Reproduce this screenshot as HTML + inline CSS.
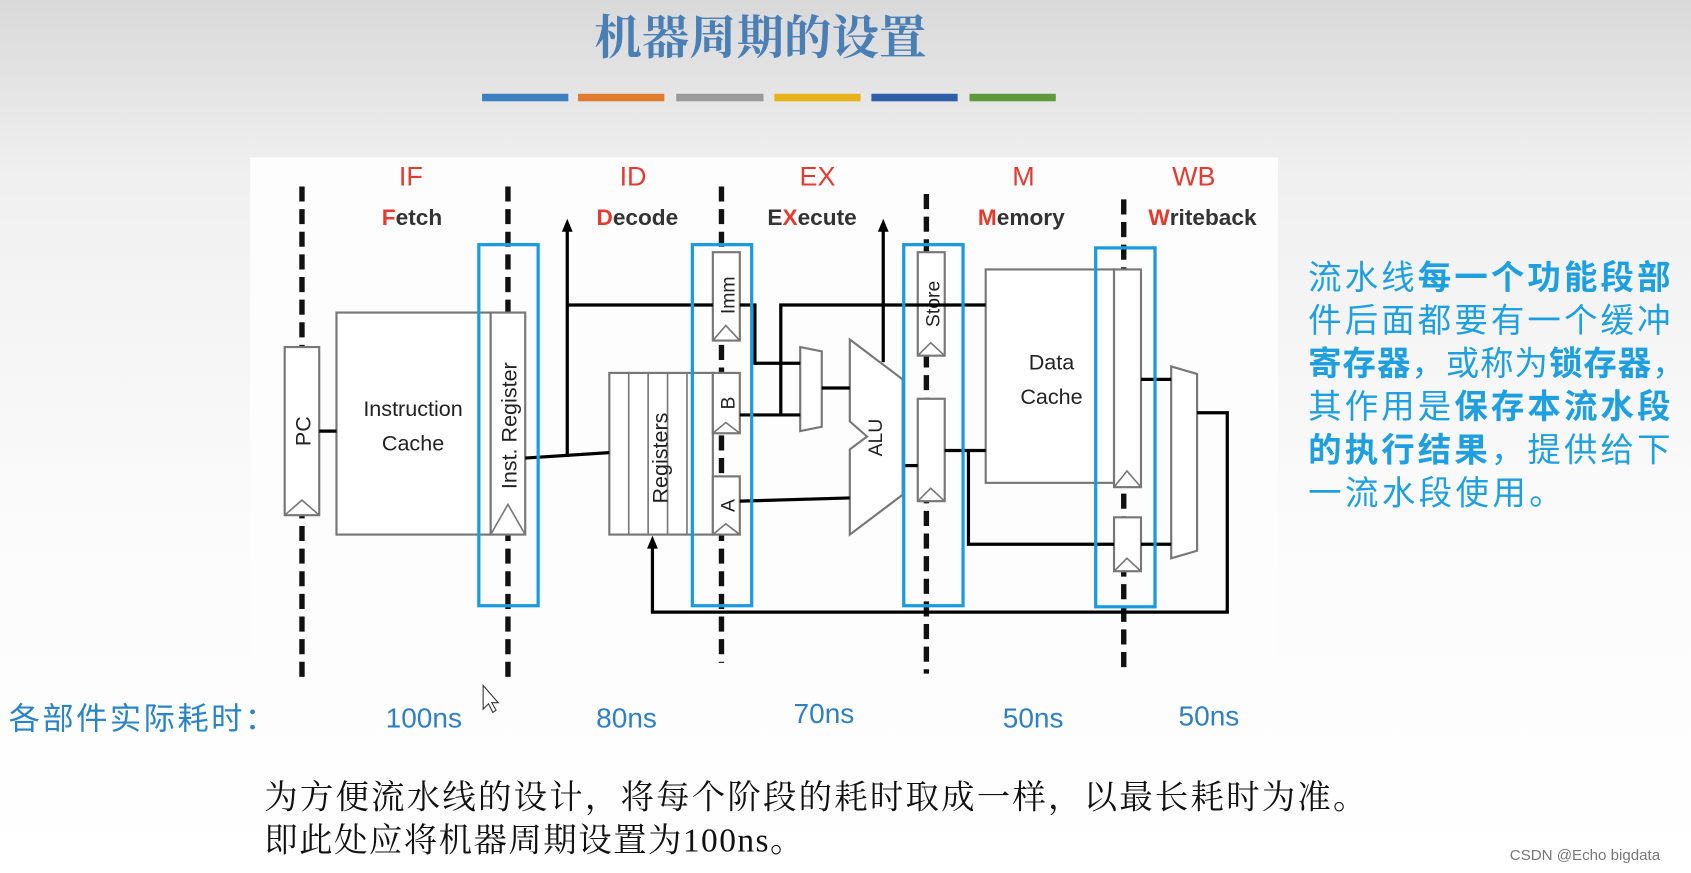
<!DOCTYPE html>
<html><head><meta charset="utf-8"><style>
html,body{margin:0;padding:0;width:1691px;height:873px;overflow:hidden;background:#fff}
svg{display:block}
.cn{font-family:"Liberation Sans","Noto Sans CJK SC",sans-serif}
.lat{font-family:"Liberation Sans","DejaVu Sans",sans-serif}
</style></head><body>
<svg width="1691" height="873" viewBox="0 0 1568 810" preserveAspectRatio="none" xmlns="http://www.w3.org/2000/svg">
<defs>
<linearGradient id="bg" x1="0" y1="0" x2="0" y2="1">
<stop offset="0" stop-color="#d9d9d9"/><stop offset="0.2" stop-color="#f0f0f0"/><stop offset="0.6" stop-color="#fbfbfb"/><stop offset="1" stop-color="#ffffff"/>
</linearGradient>
</defs>
<rect width="1568" height="810" fill="url(#bg)"/>
<rect x="232" y="146" width="953" height="494" fill="#fdfdfd"/>
<text x="705" y="50" text-anchor="middle" font-size="44" font-weight="bold" fill="#4a7fb5" font-family="'Noto Serif CJK SC',serif">机器周期的设置</text>
<g>
<rect x="447" y="87" width="80" height="7" fill="#3c80c2"/>
<rect x="536" y="87" width="80" height="7" fill="#e07b2f"/>
<rect x="627" y="87" width="81" height="7" fill="#9a9a9a"/>
<rect x="718" y="87" width="80" height="7" fill="#e8b319"/>
<rect x="808" y="87" width="80" height="7" fill="#2f5ea8"/>
<rect x="899" y="87" width="80" height="7" fill="#5e9a3c"/>
</g>
<g class="lat" font-size="25" fill="#e53a2f" text-anchor="middle">
<text x="381" y="172">IF</text><text x="587" y="172">ID</text><text x="758" y="172">EX</text><text x="949" y="172">M</text><text x="1107" y="172">WB</text>
</g>
<g class="lat" font-size="21" font-weight="bold" fill="#333" text-anchor="middle">
<text x="382" y="209"><tspan fill="#e53a2f">F</tspan>etch</text>
<text x="591" y="209"><tspan fill="#e53a2f">D</tspan>ecode</text>
<text x="753" y="209">E<tspan fill="#e53a2f">X</tspan>ecute</text>
<text x="947" y="209"><tspan fill="#e53a2f">M</tspan>emory</text>
<text x="1115" y="209"><tspan fill="#e53a2f">W</tspan>riteback</text>
</g>
<g stroke="#111" stroke-width="5" stroke-dasharray="14,7">
<line x1="280" y1="173" x2="280" y2="630"/>
<line x1="471" y1="173" x2="471" y2="630"/>
<line x1="669" y1="173" x2="669" y2="615"/>
<line x1="859" y1="180" x2="859" y2="625"/>
<line x1="1042" y1="185" x2="1042" y2="625"/>
</g>
<g fill="#fff" stroke="#777" stroke-width="2">
<rect x="264" y="322" width="32" height="156"/>
<rect x="312" y="290" width="143" height="206"/>
<rect x="455" y="290" width="32" height="206"/>
<rect x="565" y="346" width="96" height="150"/>
<rect x="661" y="234" width="25" height="82"/>
<rect x="661" y="346" width="25" height="56"/>
<rect x="661" y="442" width="25" height="54"/>
<rect x="851" y="234" width="25" height="96"/>
<rect x="851" y="370" width="25" height="95"/>
<rect x="914" y="250" width="119" height="198"/>
<rect x="1033" y="250" width="25" height="202"/>
<rect x="1033" y="480" width="25" height="50"/>
<polygon points="742,322 762,326 762,396 742,400"/>
<polygon points="1086,340 1110,347 1110,511 1086,518"/>
<polygon points="788,315 837,352 837,459 788,496 788,417 804,405 788,391"/>
</g>
<g stroke="#777" stroke-width="1.5" fill="none">
<line x1="583" y1="346" x2="583" y2="496"/><line x1="601" y1="346" x2="601" y2="496"/><line x1="619" y1="346" x2="619" y2="496"/><line x1="637" y1="346" x2="637" y2="496"/>
<polyline points="264,478 280,464 296,478"/>
<polyline points="455,496 471,468 487,496"/>
<polyline points="661,316 673,302 686,316"/>
<polyline points="661,402 673,392 686,402"/>
<polyline points="661,496 673,486 686,496"/>
<polyline points="851,330 863,318 876,330"/>
<polyline points="851,465 863,453 876,465"/>
<polyline points="1033,452 1045,437 1058,452"/>
<polyline points="1033,530 1045,518 1058,530"/>
</g>
<g class="lat" font-size="20" fill="#222" text-anchor="middle">
<text x="383" y="386">Instruction</text><text x="383" y="418">Cache</text>
<text x="975" y="343">Data</text><text x="975" y="375">Cache</text>
<text transform="translate(288,400) rotate(-90)">PC</text>
<text transform="translate(479,395) rotate(-90)">Inst. Register</text>
<text transform="translate(619,425) rotate(-90)">Registers</text>
<text transform="translate(681,274) rotate(-90)" font-size="18">Imm</text>
<text transform="translate(681,374) rotate(-90)" font-size="18">B</text>
<text transform="translate(681,469) rotate(-90)" font-size="18">A</text>
<text transform="translate(871,282) rotate(-90)" font-size="18">Store</text>
<text transform="translate(818,406) rotate(-90)" font-size="18">ALU</text>
</g>
<g stroke="#000" stroke-width="3" fill="none">
<line x1="296" y1="400" x2="312" y2="400"/>
<line x1="487" y1="425" x2="565" y2="420"/>
<line x1="526" y1="424" x2="526" y2="212"/>
<line x1="526" y1="283" x2="661" y2="283"/>
<polyline points="686,283 700,283 700,337 742,337"/>
<polyline points="724,385 724,283 914,283"/>
<line x1="686" y1="385" x2="742" y2="385"/>
<line x1="762" y1="360" x2="788" y2="360"/>
<line x1="686" y1="465" x2="788" y2="462"/>
<line x1="819" y1="336" x2="819" y2="212"/>
<line x1="837" y1="432" x2="851" y2="432"/>
<line x1="876" y1="418" x2="914" y2="418"/>
<polyline points="898,418 898,505 1033,505"/>
<line x1="1058" y1="352" x2="1086" y2="352"/>
<line x1="1058" y1="505" x2="1086" y2="505"/>
<polyline points="1110,383 1138,383 1138,568 605,568 605,506"/>
</g>
<g fill="#000">
<polygon points="526,203 521,215 531,215"/>
<polygon points="819,203 814,215 824,215"/>
<polygon points="605,497 600,509 610,509"/>
</g>
<g fill="none" stroke="#1a9be0" stroke-width="3">
<rect x="444" y="227" width="55" height="335"/>
<rect x="642" y="227" width="55" height="335"/>
<rect x="838" y="227" width="55" height="335"/>
<rect x="1016" y="230" width="55" height="333"/>
</g>
<g class="cn" font-size="31" fill="#1e9fe0">
<text x="1213" y="268" textLength="336">流水线<tspan font-weight="bold">每一个功能段部</tspan></text>
<text x="1213" y="308" textLength="336">件后面都要有一个缓冲</text>
<text x="1213" y="348" textLength="350"><tspan font-weight="bold">寄存器</tspan>，或称为<tspan font-weight="bold">锁存器</tspan>，</text>
<text x="1213" y="388" textLength="336">其作用是<tspan font-weight="bold">保存本流水段</tspan></text>
<text x="1213" y="428" textLength="336"><tspan font-weight="bold">的执行结果</tspan>，提供给下</text>
<text x="1213" y="468" textLength="236">一流水段使用。</text>
</g>
<text x="8" y="677" class="cn" font-size="29" fill="#2a84c6" textLength="248">各部件实际耗时：</text>
<g class="lat" font-size="26" fill="#2f7fc4" text-anchor="middle">
<text x="393" y="675">100ns</text><text x="581" y="675">80ns</text><text x="764" y="671">70ns</text><text x="958" y="675">50ns</text><text x="1121" y="673">50ns</text>
</g>
<path d="M448,636 L448,658 L453,653 L457,661 L460,659 L456,652 L462,652 Z" fill="#fff" stroke="#333" stroke-width="1"/>
<g font-size="31" fill="#111" font-family="'Liberation Serif','Noto Serif CJK SC',serif">
<text x="245" y="750" textLength="1022">为方便流水线的设计，将每个阶段的耗时取成一样，以最长耗时为准。</text>
<text x="245" y="790" textLength="500">即此处应将机器周期设置为100ns。</text>
</g>
<text x="1400" y="798" class="lat" font-size="14" fill="#777">CSDN @Echo bigdata</text>
</svg>
</body></html>
